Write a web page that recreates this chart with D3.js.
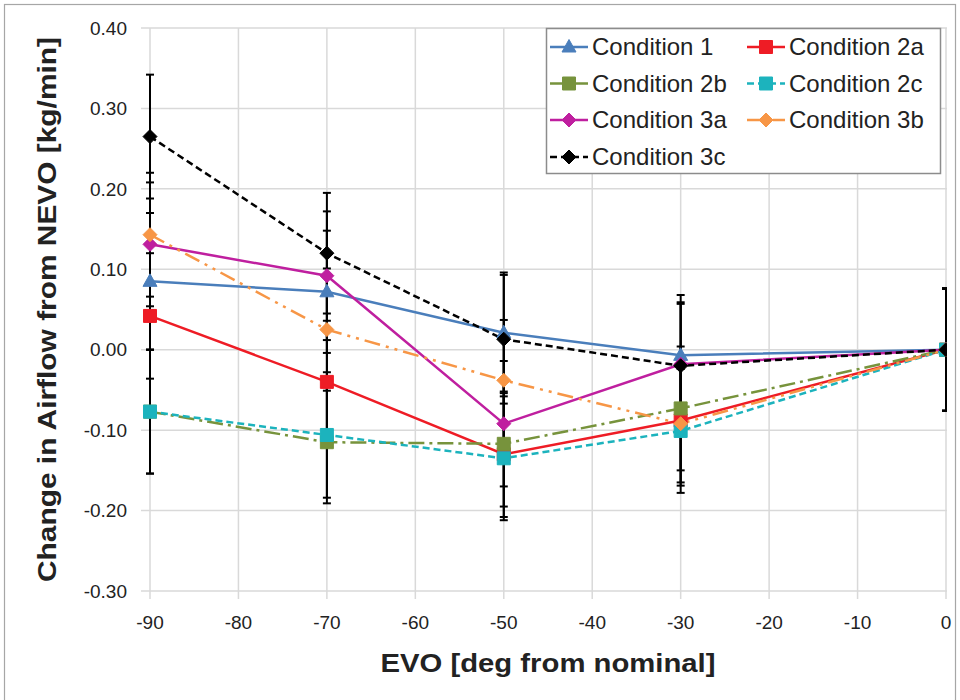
<!DOCTYPE html>
<html>
<head>
<meta charset="utf-8">
<script src="https://cdn.jsdelivr.net/npm/d3@7"></script>
<style>
  html, body { margin: 0; padding: 0; background: #fff; }
  svg { display: block; }
  text { font-family: "Liberation Sans", Arial, sans-serif; fill: #222; }
</style>
</head>
<body>
<svg id="chart" width="960" height="700"></svg>
<script>
// ---------------- data ----------------
const evo = [-90, -70, -50, -30, 0];
const xTicks = [-90, -80, -70, -60, -50, -40, -30, -20, -10, 0];
const yTicks = [0.40, 0.30, 0.20, 0.10, 0.00, -0.10, -0.20, -0.30];

const seriesNames = ["Condition 1", "Condition 2a", "Condition 2b", "Condition 2c", "Condition 3a", "Condition 3b", "Condition 3c"];
const cond1  = [0.085, 0.072, 0.021, -0.007, 0.000];
const cond2a = [0.042, -0.040, -0.130, -0.088, 0.000];
const cond2b = [-0.077, -0.115, -0.117, -0.073, 0.000];
const cond2c = [-0.077, -0.106, -0.135, -0.101, 0.000];
const cond3a = [0.131, 0.092, -0.092, -0.018, 0.000];
const cond3b = [0.143, 0.025, -0.038, -0.092, 0.000];
const cond3c = [0.265, 0.120, 0.013, -0.020, 0.000];

const err1  = [0.085, 0.076, 0.075, 0.075, 0.076];
const err2a = [0.078, 0.076, 0.078, 0.077, 0.076];
const err2b = [0.077, 0.076, 0.078, 0.077, 0.076];
const err2c = [0.077, 0.078, 0.077, 0.077, 0.076];
const err3a = [0.077, 0.080, 0.078, 0.077, 0.076];
const err3b = [0.077, 0.076, 0.075, 0.077, 0.076];
const err3c = [0.077, 0.075, 0.080, 0.077, 0.076];

const seriesValues = [cond1, cond2a, cond2b, cond2c, cond3a, cond3b, cond3c];
const seriesErrors = [err1, err2a, err2b, err2c, err3a, err3b, err3c];

// ---------------- styles ----------------
const colors  = ["#4a7ebb", "#ee1c25", "#77933c", "#1cb3bd", "#bf1f9f", "#f79646", "#000000"];
const dashes  = [null, null, "16,5,3,5", "7,4", null, "16,6,3,6,3,6", "7,4"];
const markers = ["triangle", "square", "square", "square", "diamond", "diamond", "diamond"];

const series = seriesNames.map((name, i) => ({
  name, color: colors[i], dash: dashes[i], marker: markers[i],
  points: evo.map((x, j) => ({ x, y: seriesValues[i][j], e: seriesErrors[i][j] }))
}));

// ---------------- layout ----------------
const svg = d3.select("#chart");
const plot = { left: 150, right: 946, top: 28, bottom: 591 };

svg.append("rect").attr("x", 4.5).attr("y", 4.5).attr("width", 951).attr("height", 700)
  .attr("fill", "#fff").attr("stroke", "#a6a6a6").attr("stroke-width", 1.2);

const x = d3.scaleLinear().domain([-90, 0]).range([plot.left, plot.right]);
const y = d3.scaleLinear().domain([-0.30, 0.40]).range([plot.bottom, plot.top]);

const fmtY = d => (d < 0 ? "-" : "") + Math.abs(d).toFixed(2);
const fmtX = d => (d < 0 ? "-" : "") + Math.abs(d).toFixed(0);

// gridlines
const grid = svg.append("g").attr("stroke", "#d9d9d9").attr("stroke-width", 1.5);
grid.selectAll(".hg").data(yTicks).join("line")
  .attr("x1", plot.left - 9).attr("x2", plot.right + 1)
  .attr("y1", d => y(d)).attr("y2", d => y(d));
grid.selectAll(".vg").data(xTicks).join("line")
  .attr("x1", d => x(d)).attr("x2", d => x(d))
  .attr("y1", plot.top).attr("y2", plot.bottom + 8);

// y tick labels
svg.append("g").selectAll("text").data(yTicks).join("text")
  .attr("x", 127).attr("y", d => y(d)).attr("dy", "0.35em")
  .attr("text-anchor", "end").attr("font-size", 19)
  .text(fmtY);

// x tick labels
svg.append("g").selectAll("text").data(xTicks).join("text")
  .attr("x", d => x(d)).attr("y", 622).attr("dy", "0.35em")
  .attr("text-anchor", "middle").attr("font-size", 19)
  .text(fmtX);

// axis titles
svg.append("text")
  .attr("transform", `translate(47,${(plot.top + plot.bottom) / 2}) rotate(-90)`)
  .attr("text-anchor", "middle").attr("dy", "0.35em")
  .attr("font-size", 26).attr("font-weight", "bold")
  .attr("textLength", 545).attr("lengthAdjust", "spacingAndGlyphs")
  .text("Change in Airflow from NEVO [kg/min]");

svg.append("text")
  .attr("x", (plot.left + plot.right) / 2).attr("y", 663).attr("dy", "0.35em")
  .attr("text-anchor", "middle")
  .attr("font-size", 26).attr("font-weight", "bold")
  .attr("textLength", 335).attr("lengthAdjust", "spacingAndGlyphs")
  .text("EVO [deg from nominal]");

// clip
svg.append("clipPath").attr("id", "clip").append("rect")
  .attr("x", plot.left - 12).attr("y", 0).attr("width", plot.right - plot.left + 13).attr("height", 700);

const area = svg.append("g").attr("clip-path", "url(#clip)");

// lines
const line = d3.line().x(d => x(d.x)).y(d => y(d.y));
area.append("g").selectAll("path").data(series).join("path")
  .attr("d", d => line(d.points))
  .attr("fill", "none").attr("stroke", d => d.color).attr("stroke-width", 2.5)
  .attr("stroke-dasharray", d => d.dash);

// error bars
const eb = area.append("g").attr("stroke", "#000").attr("stroke-width", 2);
series.forEach(s => {
  s.points.forEach(p => {
    const cx = x(p.x);
    eb.append("line").attr("x1", cx).attr("x2", cx).attr("y1", y(p.y + p.e)).attr("y2", y(p.y - p.e));
    eb.append("line").attr("x1", cx - 4).attr("x2", cx + 4).attr("y1", y(p.y + p.e)).attr("y2", y(p.y + p.e));
    eb.append("line").attr("x1", cx - 4).attr("x2", cx + 4).attr("y1", y(p.y - p.e)).attr("y2", y(p.y - p.e));
  });
});

// markers
function markerPath(m) {
  if (m === "triangle") return "M0,-7.5L7,5L-7,5Z";
  if (m === "square") return "M-6.5,-6.5H6.5V6.5H-6.5Z";
  return "M0,-7L7,0L0,7L-7,0Z";
}
function drawMarker(g, m, color, cx, cy) {
  g.append("path")
    .attr("d", markerPath(m))
    .attr("transform", `translate(${cx},${cy})`)
    .attr("fill", color).attr("stroke", color).attr("stroke-width", 1);
}
const mk = area.append("g");
series.forEach(s => s.points.forEach(p => drawMarker(mk, s.marker, s.color, x(p.x), y(p.y))));

// legend
const lg = svg.append("g");
lg.append("rect").attr("x", 546.5).attr("y", 28.5).attr("width", 394).attr("height", 145)
  .attr("fill", "#fff").attr("stroke", "#8c8c8c").attr("stroke-width", 1.5);
const rowY = [47, 83.5, 120, 157];
const colX = [550, 747];
series.forEach((s, i) => {
  const lx = colX[i % 2], ly = rowY[Math.floor(i / 2)];
  lg.append("line").attr("x1", lx).attr("x2", lx + 38).attr("y1", ly).attr("y2", ly)
    .attr("stroke", s.color).attr("stroke-width", 2.5).attr("stroke-dasharray", s.dash ? (s.dash === "7,4" ? "7,4" : "15,4,3,4") : null);
  drawMarker(lg, s.marker, s.color, lx + 19, ly);
  lg.append("text").attr("x", lx + 42).attr("y", ly).attr("dy", "0.35em")
    .attr("font-size", 24).text(s.name);
});
</script>
</body>
</html>
